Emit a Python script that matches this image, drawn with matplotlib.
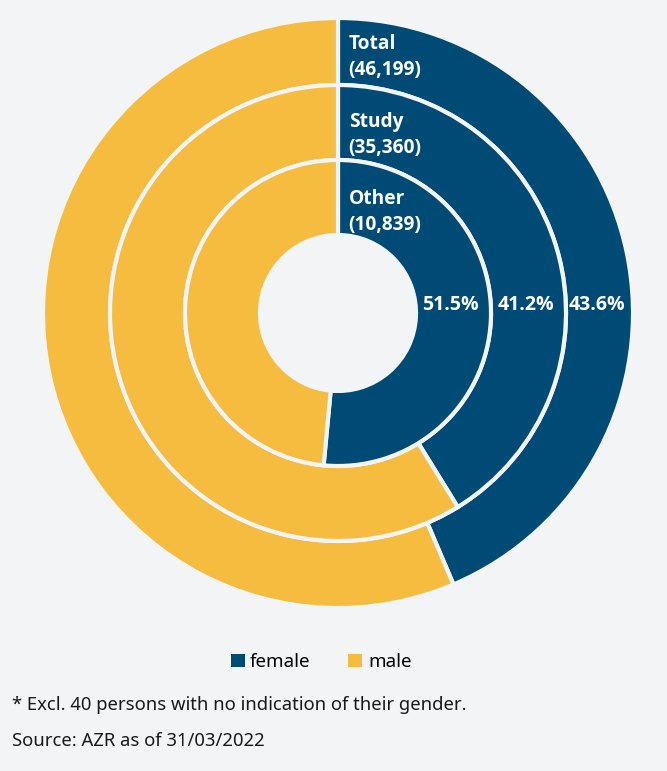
import numpy as np
import matplotlib
matplotlib.use('Agg')
import matplotlib.pyplot as plt
from matplotlib.patches import Patch

plt.rcParams['font.family'] = ['Noto Sans', 'DejaVu Sans']
BOLD = ['Open Sans', 'DejaVu Sans']

# data, outer ring first
rings = ['Total', 'Study', 'Other']
counts = ['46,199', '35,360', '10,839']
female_pct = [43.6, 41.2, 51.5]
male_pct = [56.4, 58.8, 48.5]
legend_labels = ['female', 'male']

navy = '#004b76'
yellow = '#f6bc3f'
bg = '#f3f4f6'

W, H = 667, 771
fig = plt.figure(figsize=(W / 100, H / 100), dpi=100, facecolor=bg)
ax = fig.add_axes([0, 0, 1, 1])
ax.set_facecolor(bg)

# pixel coords, y measured from bottom
cx, cy = 338, H - 313
radii = [295, 228, 153]
widths = [67, 75, 75]

for i in range(3):
	ax.pie([female_pct[i], male_pct[i]], colors=[navy, yellow], startangle=90,
		   counterclock=False, center=(cx, cy), radius=radii[i],
		   wedgeprops=dict(width=widths[i], edgecolor=bg, linewidth=3))

# ring names at top right
name_y = [44, 122, 199]
for i in range(3):
	ax.text(349, H - name_y[i], rings[i], color='white', family=BOLD,
			fontsize=13.8, fontweight='bold', ha='left', va='center')
	ax.text(348, H - name_y[i] - 26, '(' + counts[i] + ')', color='white', family=BOLD,
			fontsize=13.8, fontweight='bold', ha='left', va='center')

# percentages on each ring
for i in range(3):
	rmid = radii[i] - widths[i] / 2
	ax.text(cx + rmid - 3, H - 305, '{:.1f}%'.format(female_pct[i]), color='white',
			family=BOLD, fontsize=14, fontweight='bold', ha='center', va='center')

ax.set_xlim(0, W)
ax.set_ylim(0, H)
ax.set_aspect('equal')
ax.axis('off')

handles = [Patch(facecolor=navy), Patch(facecolor=yellow)]
fig.legend(handles, legend_labels, loc='center', bbox_to_anchor=(321 / W, 1 - 662 / H),
		   ncol=2, frameon=False, fontsize=13.5, handlelength=0.75, handleheight=0.75,
		   handletextpad=0.3, columnspacing=2.0)

fig.text(12 / W, 1 - 705 / H, '* Excl. 40 persons with no indication of their gender.',
		 fontsize=13.3, color='#1a1a1a', ha='left', va='center')
fig.text(12 / W, 1 - 741 / H, 'Source: AZR as of 31/03/2022',
		 fontsize=13.3, color='#1a1a1a', ha='left', va='center')

fig.savefig('out.png', dpi=100, facecolor=bg)
